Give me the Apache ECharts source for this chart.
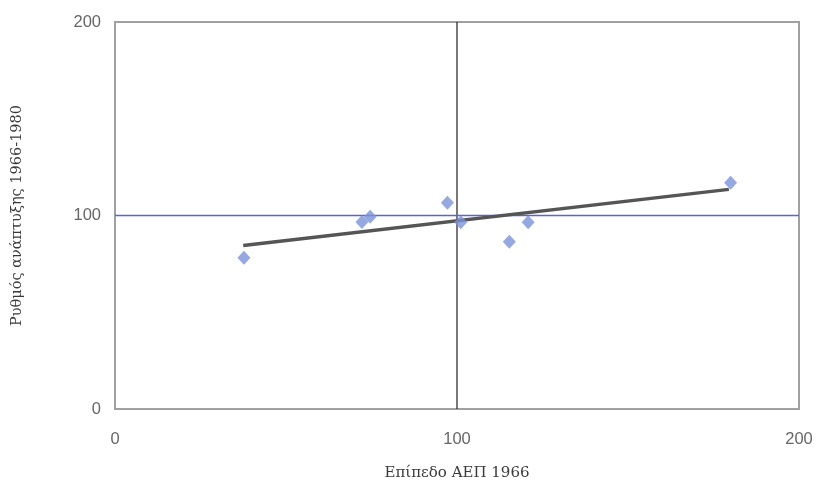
<!DOCTYPE html>
<html>
<head>
<meta charset="utf-8">
<script src="https://cdn.jsdelivr.net/npm/echarts@6/dist/echarts.min.js"></script>
<style>html,body{margin:0;padding:0;background:#fff;}#c{width:818px;height:484px;}</style>
</head>
<body>
<div id="c"></div>
<script>
// GDP level 1966 (x) vs growth rate 1966-1980 (y)
const gdpLevel1966 = [37.7, 72.2, 74.6, 97.2, 101.1, 115.3, 120.8, 180.0];
const growthRate = [78.2, 96.7, 99.3, 106.6, 96.5, 86.4, 96.5, 116.9];
// trend line endpoints
const trendX = [37.5, 179.5];
const trendY = [84.5, 113.5];
const axisTicks = [0, 100, 200];
const refX = 100;
const refY = 100;
const xTitle = 'Επίπεδο ΑΕΠ 1966';
const yTitle = 'Ρυθμός ανάπτυξης 1966-1980';

const chart = echarts.init(document.getElementById('c'), null, {renderer: 'canvas'});
chart.setOption({
  animation: false,
  backgroundColor: '#ffffff',
  grid: {left: 115, right: 19, top: 22, bottom: 75, containLabel: false, outerBoundsMode: 'none',
         show: true, borderColor: '#a0a0a0', borderWidth: 2, backgroundColor: 'transparent'},
  xAxis: {
    type: 'value', min: axisTicks[0], max: axisTicks[2], interval: 100,
    axisLine: {show: false}, axisTick: {show: false},
    axisLabel: {margin: 22, color: '#666666', fontSize: 16.5, fontFamily: 'Liberation Sans'},
    splitLine: {show: false},
    name: xTitle, nameLocation: 'middle', nameGap: 57,
    nameTextStyle: {color: '#3a3a3a', fontSize: 15, fontFamily: 'DejaVu Serif'}
  },
  yAxis: {
    type: 'value', min: axisTicks[0], max: axisTicks[2], interval: 100,
    axisLine: {show: false}, axisTick: {show: false},
    axisLabel: {margin: 14, color: '#666666', fontSize: 16.5, fontFamily: 'Liberation Sans'},
    splitLine: {show: false},
    name: yTitle, nameLocation: 'middle', nameGap: 90,
    nameTextStyle: {color: '#3a3a3a', fontSize: 14.5, fontFamily: 'DejaVu Serif'}
  },
  series: [
    {
      type: 'line', silent: true, symbol: 'none', z: 1,
      data: [[refX, axisTicks[0]], [refX, axisTicks[2]]],
      lineStyle: {color: '#1e1e1e', width: 1.2}
    },
    {
      type: 'line', silent: true, symbol: 'none', z: 1,
      data: [[axisTicks[0], refY], [axisTicks[2], refY]],
      lineStyle: {color: '#5a64d8', width: 1.3}
    },
    {
      type: 'line',
      data: trendX.map((x, i) => [x, trendY[i]]),
      symbol: 'none',
      lineStyle: {color: '#555555', width: 3.5},
      z: 2
    },
    {
      type: 'scatter',
      data: gdpLevel1966.map((x, i) => [x, growthRate[i]]),
      symbol: 'diamond',
      symbolSize: [13, 14],
      itemStyle: {color: '#7b92d8'},
      z: 3
    }
  ]
});
</script>
</body>
</html>
